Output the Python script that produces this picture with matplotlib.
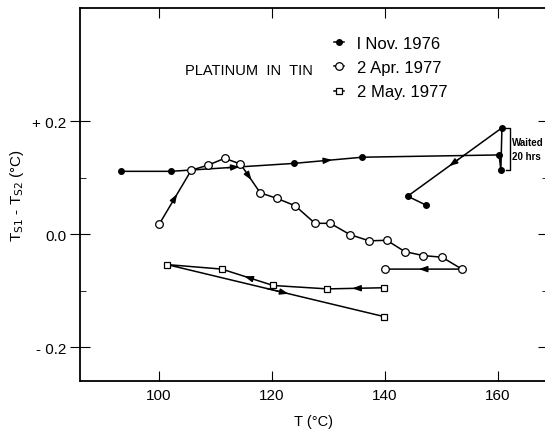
import matplotlib.pyplot as plt
import numpy as np

plt.rcParams['font.family'] = ['Liberation Sans', 'DejaVu Sans']

# 1 Nov 1976 (filled circles)
nov_T = [93.3, 102.1, 123.8, 136.0, 160.2, 160.5, 160.7, 144.0, 147.3]
nov_dT = [0.111, 0.111, 0.125, 0.136, 0.140, 0.113, 0.188, 0.067, 0.051]
# 2 Apr 1977 (open circles)
apr_T = [100.0, 105.7, 108.7, 111.6, 114.4, 117.9, 120.9, 124.1, 127.6, 130.3,
         133.8, 137.2, 140.3, 143.5, 146.7, 150.1, 153.6, 140.0]
apr_dT = [0.017, 0.113, 0.122, 0.134, 0.124, 0.073, 0.063, 0.050, 0.019, 0.019,
          -0.001, -0.012, -0.011, -0.031, -0.038, -0.041, -0.062, -0.062]
# 2 May 1977 (open squares)
may_T = [139.8, 129.8, 120.2, 111.1, 101.4, 139.8]
may_dT = [-0.095, -0.097, -0.091, -0.062, -0.054, -0.146]

# segments (start index) that carry a direction arrow
nov_arrows = [1, 2, 6]
apr_arrows = [0, 4, 16]
may_arrows = [0, 2, 4]

fig = plt.figure(figsize=(5.45, 4.31), dpi=100)
ax = fig.add_axes([80/545, 49/431, 468/545, 373/431])

def add_arrows(x, y, idx):
    for i in idx:
        x0, y0, x1, y1 = x[i], y[i], x[i+1], y[i+1]
        a = (x0 + 0.46*(x1-x0), y0 + 0.46*(y1-y0))
        b = (x0 + 0.56*(x1-x0), y0 + 0.56*(y1-y0))
        ax.annotate('', xy=b, xytext=a,
                    arrowprops=dict(arrowstyle='-|>,head_length=0.5,head_width=0.18',
                                    color='black', lw=1.0, shrinkA=0, shrinkB=0))

ax.plot(nov_T, nov_dT, '-o', color='black', lw=1.1, ms=4,
        mfc='black', label='l Nov. 1976')
ax.plot(apr_T, apr_dT, '-o', color='black', lw=1.1, ms=5.5,
        mfc='white', mew=0.9, label='2 Apr. 1977')
ax.plot(may_T, may_dT, '-s', color='black', lw=1.1, ms=4.5,
        mfc='white', mew=0.9, label='2 May. 1977')
add_arrows(nov_T, nov_dT, nov_arrows)
add_arrows(apr_T, apr_dT, apr_arrows)
add_arrows(may_T, may_dT, may_arrows)

# "waited" bracket
ax.plot([161.4, 162.2, 162.2, 161.4], [0.188, 0.188, 0.113, 0.113], color='black', lw=1.0)
ax.text(162.55, 0.150, 'Waited\n20 hrs', fontsize=7, fontweight='bold',
        va='center', ha='left', linespacing=1.5)

ax.set_xlim(86.0, 168.85)
ax.set_ylim(-0.26, 0.40)
ax.set_xticks([100, 120, 140, 160])
ax.set_yticks([0.2, 0.0, -0.2])
ax.set_yticklabels(['+ 0.2', '0.0', '- 0.2'])
ax.set_yticks([0.1, -0.1], minor=True)
ax.tick_params(axis='x', direction='in', length=7, top=True, labelsize=11, pad=5)
ax.tick_params(axis='y', which='major', direction='inout', length=14, right=True,
               labelsize=11, pad=3)
ax.tick_params(axis='y', which='minor', direction='in', length=4, right=True)
for s in ax.spines.values():
    s.set_linewidth(1.3)

ax.set_xlabel('T (°C)', fontsize=10.5, labelpad=9)
ax.set_ylabel(r'T$_{\rm S1}$ - T$_{\rm S2}$ (°C)', fontsize=11, labelpad=4)

ax.text(0.224, 0.835, 'PLATINUM  IN  TIN', transform=ax.transAxes,
        fontsize=10.5, va='center')
ax.legend(loc='upper left', bbox_to_anchor=(0.51, 0.965), frameon=False,
          numpoints=1, handlelength=0.6, handletextpad=0.8, labelspacing=0.55,
          fontsize=12)

fig.savefig('out.png', dpi=100)
